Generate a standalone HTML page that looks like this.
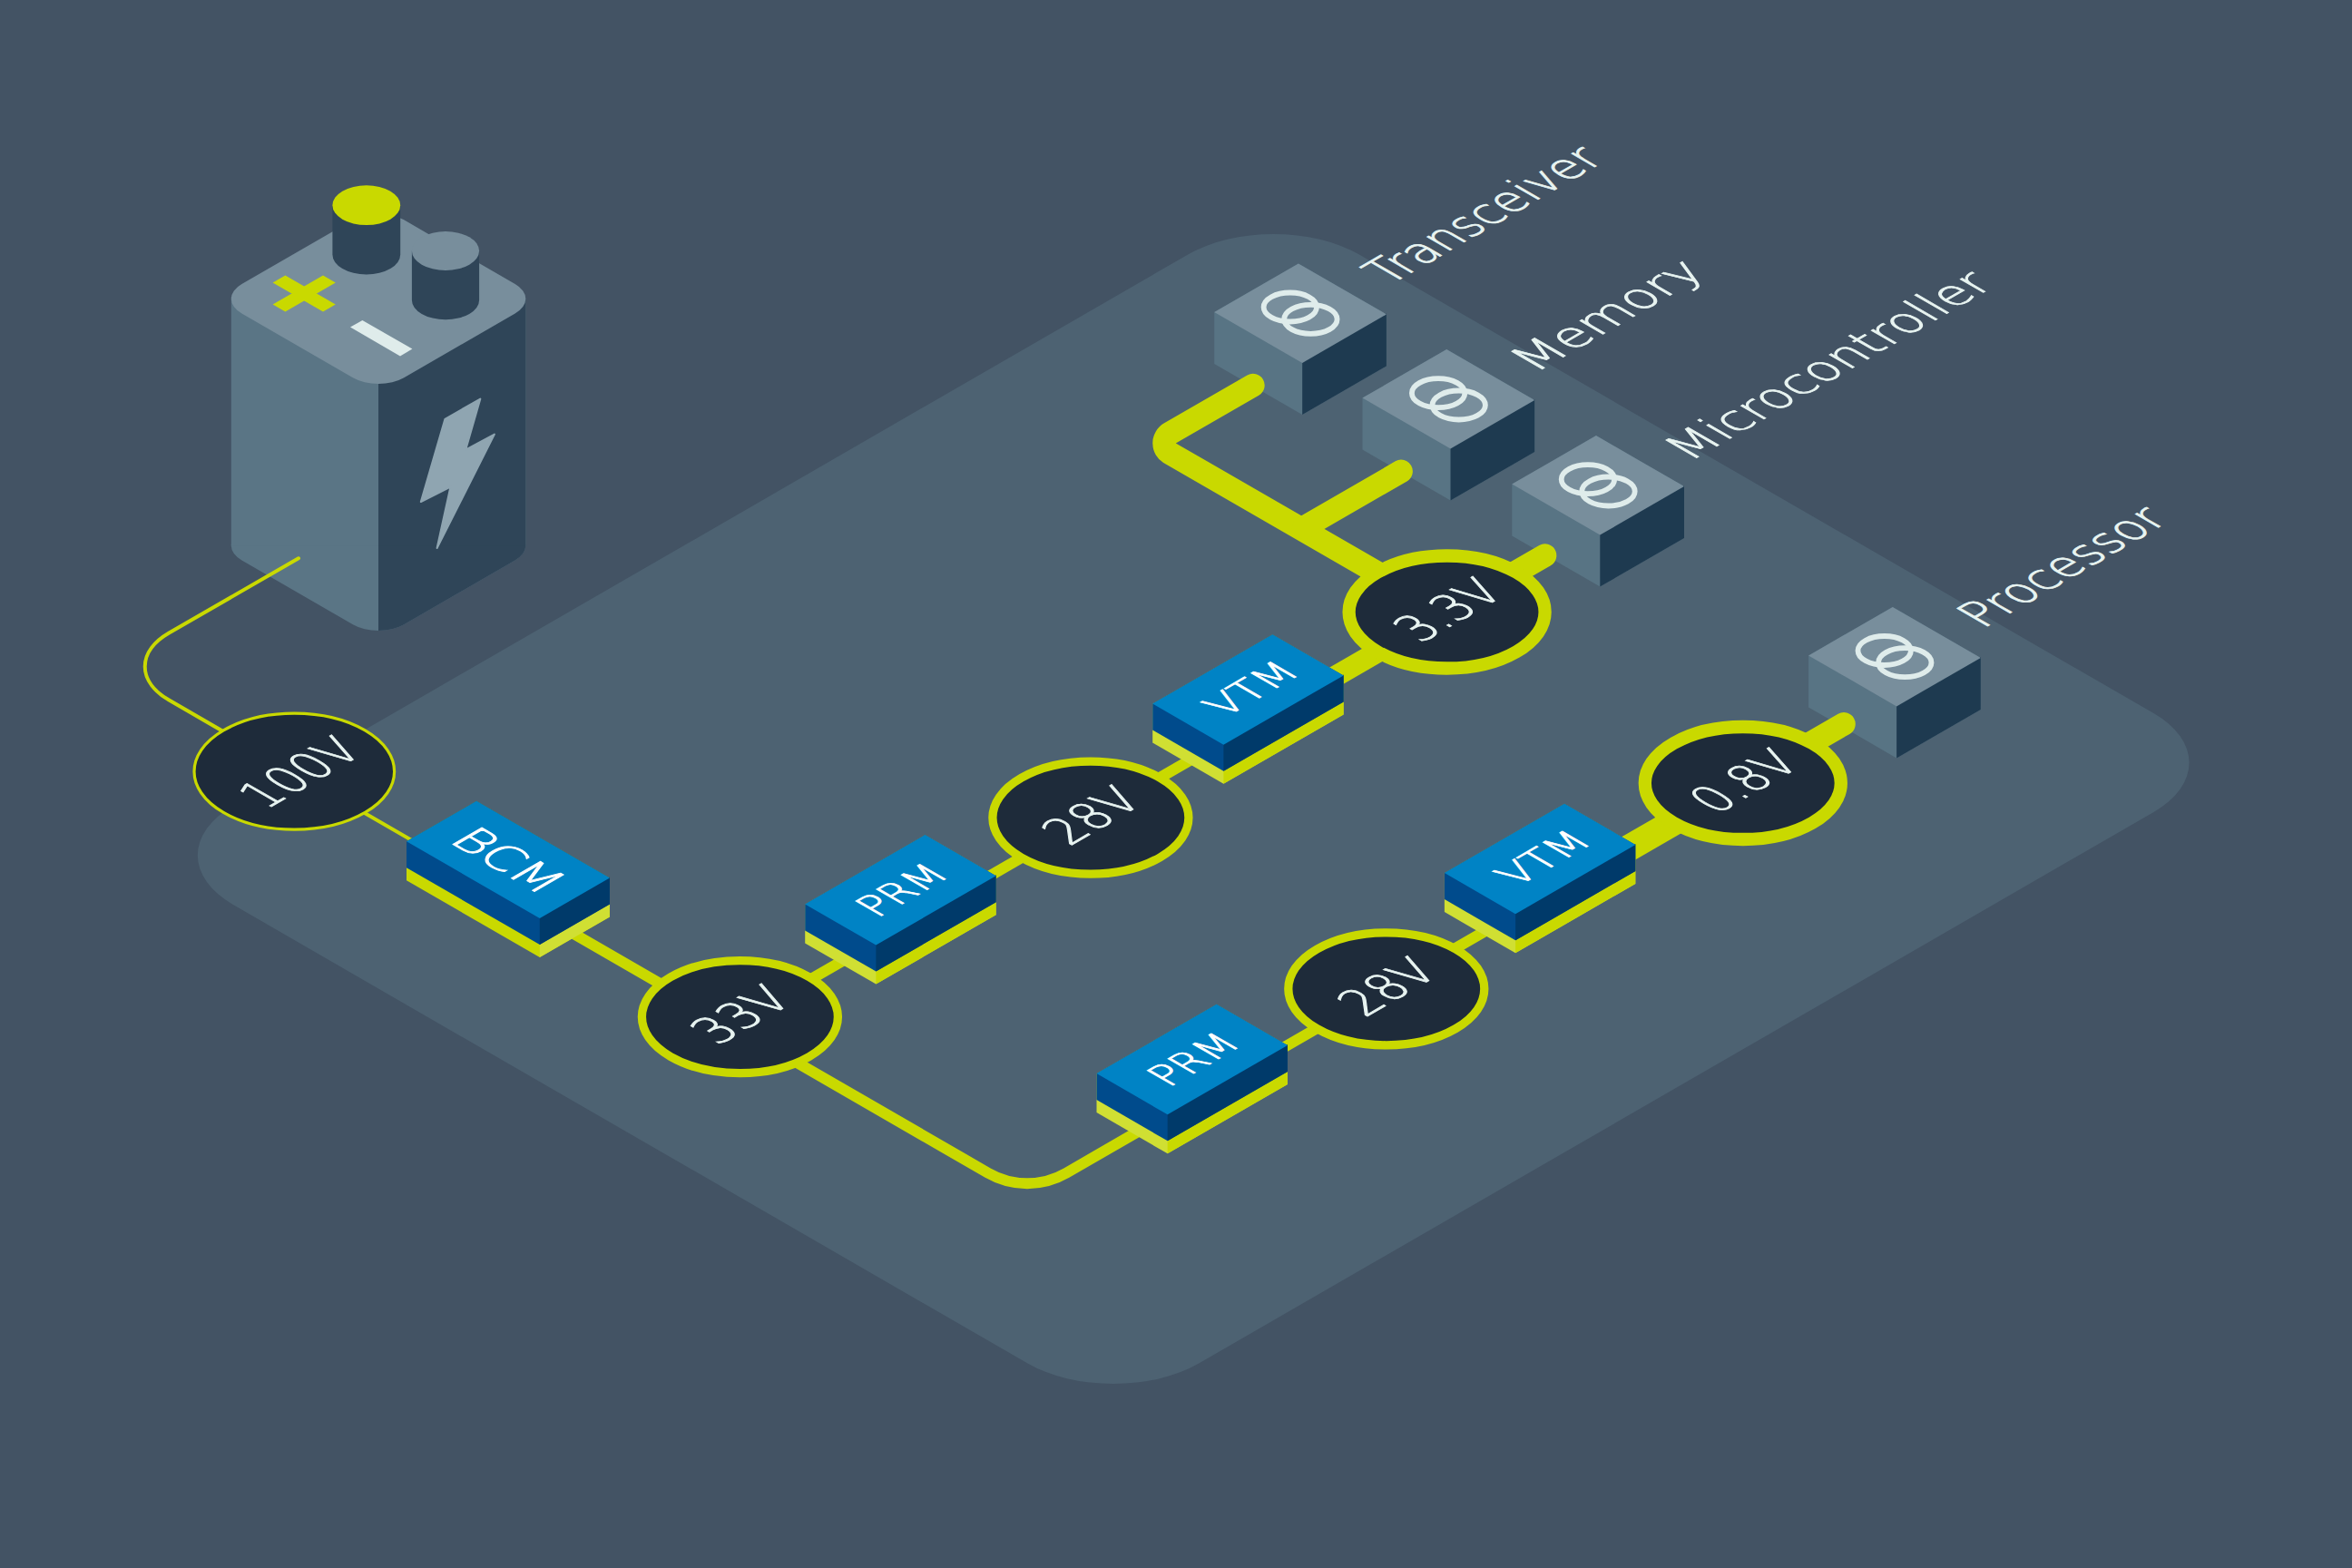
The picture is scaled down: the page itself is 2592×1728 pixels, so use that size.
<!DOCTYPE html>
<html lang="en"><head><meta charset="utf-8"><title>Power delivery network</title>
<style>
html,body{margin:0;padding:0;background:#435364;}
svg{display:block;}
text{font-family:"DejaVu Sans Light","DejaVu Sans","Liberation Sans",sans-serif;font-weight:200;}
</style></head><body>
<svg width="2592" height="1728" viewBox="0 0 2592 1728">
<rect width="2592" height="1728" fill="#435364"/>
<rect x="0" y="0" width="1433" height="1229" rx="109" ry="109" fill="#4d6272" transform="matrix(0.86603,-0.5,0.86603,0.5,162.5,942.5)"/>
<defs><clipPath id="brc"><rect x="417.0" y="0" width="400" height="1728"/></clipPath></defs>
<rect x="0" y="0" width="206.4" height="206.4" rx="32.5" ry="32.5" fill="#5a7585" transform="matrix(0.86603,-0.5,0.86603,0.5,238.3,601.3)"/>
<rect x="254.8" y="329.3" width="324.5" height="272" fill="#5a7585"/>
<g clip-path="url(#brc)">
<rect x="0" y="0" width="206.4" height="206.4" rx="32.5" ry="32.5" fill="#2f4558" transform="matrix(0.86603,-0.5,0.86603,0.5,238.3,601.3)"/>
<rect x="254.8" y="329.3" width="324.5" height="272" fill="#2f4558"/>
</g>
<rect x="0" y="0" width="206.4" height="206.4" rx="32.5" ry="32.5" fill="#788e9c" transform="matrix(0.86603,-0.5,0.86603,0.5,238.3,329.3)"/>
<polygon points="529.3,439.6 513.2,495.6 544.9,478.6 481.6,604.0 496.4,536.6 463.8,553.0 490.4,461.8" fill="#8fa5b1" stroke="#8fa5b1" stroke-width="2" stroke-linejoin="round"/>
<polygon points="300.6,335.6 356.0,303.6 369.8,311.6 314.4,343.6" fill="#c9d900"/>
<polygon points="300.6,311.6 314.4,303.6 369.8,335.6 356.0,343.6" fill="#c9d900"/>
<polygon points="386.0,360.6 399.4,352.9 454.4,384.6 441.0,392.4" fill="#dfeceb"/>
<path d="M366.4,226.2 V280.5 A37.4,21.9 0 0 0 441.2,280.5 V226.2 Z" fill="#2f4558"/><ellipse cx="403.8" cy="226.2" rx="37.4" ry="21.9" fill="#c9d900"/>
<path d="M453.9,276.5 V330.7 A37.1,21.5 0 0 0 528.1,330.7 V276.5 Z" fill="#2f4558"/><ellipse cx="491" cy="276.5" rx="37.1" ry="21.5" fill="#788e9c"/>
<polygon points="1338.2,343.9 1430.9,290.4 1527.9,346.4 1527.9,403.4 1435.2,456.9 1338.2,400.9" fill="#587484"/><polygon points="1435.2,398.9 1527.9,345.4 1527.9,403.4 1435.2,456.9" fill="#1e3a50"/><polygon points="1430.9,290.4 1527.9,346.4 1435.2,399.9 1338.2,343.9" fill="#788e9c"/><ellipse cx="1421.8" cy="338.5" rx="29.2" ry="16" fill="none" stroke="#dfeceb" stroke-width="5.8"/><ellipse cx="1444.4" cy="351.8" rx="29.2" ry="16" fill="none" stroke="#dfeceb" stroke-width="5.8"/>
<polygon points="1501.5,438.6 1594.2,385.1 1691.2,441.1 1691.2,498.1 1598.5,551.6 1501.5,495.6" fill="#587484"/><polygon points="1598.5,493.6 1691.2,440.1 1691.2,498.1 1598.5,551.6" fill="#1e3a50"/><polygon points="1594.2,385.1 1691.2,441.1 1598.5,494.6 1501.5,438.6" fill="#788e9c"/><ellipse cx="1585.1" cy="433.2" rx="29.2" ry="16" fill="none" stroke="#dfeceb" stroke-width="5.8"/><ellipse cx="1607.7" cy="446.5" rx="29.2" ry="16" fill="none" stroke="#dfeceb" stroke-width="5.8"/>
<polygon points="1666.3,533.6 1759.0,480.1 1856.0,536.1 1856.0,593.1 1763.3,646.6 1666.3,590.6" fill="#587484"/><polygon points="1763.3,588.6 1856.0,535.1 1856.0,593.1 1763.3,646.6" fill="#1e3a50"/><polygon points="1759.0,480.1 1856.0,536.1 1763.3,589.6 1666.3,533.6" fill="#788e9c"/><ellipse cx="1749.9" cy="528.2" rx="29.2" ry="16" fill="none" stroke="#dfeceb" stroke-width="5.8"/><ellipse cx="1772.5" cy="541.5" rx="29.2" ry="16" fill="none" stroke="#dfeceb" stroke-width="5.8"/>
<polygon points="1993.1,722.4 2085.8,668.9 2182.8,724.9 2182.8,781.9 2090.1,835.4 1993.1,779.4" fill="#587484"/><polygon points="2090.1,777.4 2182.8,723.9 2182.8,781.9 2090.1,835.4" fill="#1e3a50"/><polygon points="2085.8,668.9 2182.8,724.9 2090.1,778.4 1993.1,722.4" fill="#788e9c"/><ellipse cx="2076.7" cy="717.0" rx="29.2" ry="16" fill="none" stroke="#dfeceb" stroke-width="5.8"/><ellipse cx="2099.3" cy="730.2" rx="29.2" ry="16" fill="none" stroke="#dfeceb" stroke-width="5.8"/>
<path d="M329,615.3 L186.3,697.6 A90.6,52.3 0 0 0 186.3,771.6 L323.9,851 L560,987.3" fill="none" stroke="#c9d900" stroke-width="4" stroke-linecap="round" stroke-linejoin="round"/>
<path d="M560,987.3 L1088.7,1292.6 A86.6,86.6 0 0 0 1175.3,1292.6 L1697,991.3" fill="none" stroke="#c9d900" stroke-width="12" stroke-linecap="butt" stroke-linejoin="round"/>
<path d="M1697,991.3 L1920.8,862.1" fill="none" stroke="#c9d900" stroke-width="29.3" stroke-linecap="butt" stroke-linejoin="round"/>
<path d="M1920.8,862.1 L2032,797.9" fill="none" stroke="#c9d900" stroke-width="25.5" stroke-linecap="round" stroke-linejoin="round"/>
<path d="M815.4,1124.3 L1375.3,801.0" fill="none" stroke="#c9d900" stroke-width="12" stroke-linecap="butt" stroke-linejoin="round"/>
<path d="M1375.3,801.0 L1594.6,674.4" fill="none" stroke="#c9d900" stroke-width="23.5" stroke-linecap="butt" stroke-linejoin="round"/>
<path d="M1594.6,674.4 L1702.6,612.1" fill="none" stroke="#c9d900" stroke-width="25.5" stroke-linecap="round" stroke-linejoin="round"/>
<path d="M1594.6,675.6 L1289.4,499.45 A12.75,12.75 0 0 1 1289.4,477.35 L1380.9,424.6" fill="none" stroke="#c9d900" stroke-width="25.5" stroke-linecap="round" stroke-linejoin="round"/>
<path d="M1436.6,581.5 L1544.1,519.4" fill="none" stroke="#c9d900" stroke-width="25.5" stroke-linecap="round" stroke-linejoin="round"/>
<polygon points="448.0,927.3 525.1,882.8 671.9,967.5 671.9,1010.5 594.8,1055.0 448.0,970.3" fill="#c9d900"/><polygon points="594.8,1012.0 671.9,967.5 671.9,1010.5 594.8,1055.0" fill="#d0df33"/><polygon points="448.0,927.3 525.1,882.8 671.9,967.5 671.9,996.5 594.8,1041.0 448.0,956.3" fill="#004b8c"/><polygon points="594.8,1011.0 671.9,966.5 671.9,996.5 594.8,1041.0" fill="#003a6a"/><polygon points="525.1,882.8 671.9,967.5 594.8,1012.0 448.0,927.3" fill="#0083c5"/>
<text transform="matrix(0.8660,0.5000,-0.8660,0.5000,560.0,947.4)" x="1.0" y="18.5" font-size="50.8" text-anchor="middle" textLength="119.3" lengthAdjust="spacingAndGlyphs" fill="#ffffff" stroke="#ffffff" stroke-width="1.0">BCM</text>
<polygon points="887.2,996.5 1019.4,920.1 1097.6,965.2 1097.6,1008.2 965.4,1084.6 887.2,1039.5" fill="#d0df33"/><polygon points="965.4,1041.6 1097.6,965.2 1097.6,1008.2 965.4,1084.6" fill="#c9d900"/><polygon points="887.2,996.5 1019.4,920.1 1097.6,965.2 1097.6,994.2 965.4,1070.6 887.2,1025.5" fill="#004b8c"/><polygon points="965.4,1040.6 1097.6,964.2 1097.6,994.2 965.4,1070.6" fill="#003a6a"/><polygon points="1019.4,920.1 1097.6,965.2 965.4,1041.6 887.2,996.5" fill="#0083c5"/>
<text transform="matrix(0.8660,-0.5000,0.8660,0.5000,992.4,980.9)" x="0.8" y="16.4" font-size="44.9" text-anchor="middle" textLength="93.5" lengthAdjust="spacingAndGlyphs" fill="#ffffff" stroke="#ffffff" stroke-width="1.0">PRM</text>
<polygon points="1270.2,775.6 1402.4,699.2 1480.6,744.4 1480.6,787.4 1348.4,863.7 1270.2,818.6" fill="#d0df33"/><polygon points="1348.4,820.7 1480.6,744.4 1480.6,787.4 1348.4,863.7" fill="#c9d900"/><polygon points="1270.2,775.6 1402.4,699.2 1480.6,744.4 1480.6,773.4 1348.4,849.7 1270.2,804.6" fill="#004b8c"/><polygon points="1348.4,819.7 1480.6,743.4 1480.6,773.4 1348.4,849.7" fill="#003a6a"/><polygon points="1402.4,699.2 1480.6,744.4 1348.4,820.7 1270.2,775.6" fill="#0083c5"/>
<text transform="matrix(0.8660,-0.5000,0.8660,0.5000,1375.4,760.0)" x="3.1" y="16.4" font-size="44.9" text-anchor="middle" textLength="97.4" lengthAdjust="spacingAndGlyphs" fill="#ffffff" stroke="#ffffff" stroke-width="1.0">VTM</text>
<polygon points="1208.5,1183.1 1340.7,1106.8 1418.9,1152.0 1418.9,1195.0 1286.7,1271.3 1208.5,1226.1" fill="#d0df33"/><polygon points="1286.7,1228.3 1418.9,1152.0 1418.9,1195.0 1286.7,1271.3" fill="#c9d900"/><polygon points="1208.5,1183.1 1340.7,1106.8 1418.9,1152.0 1418.9,1181.0 1286.7,1257.3 1208.5,1212.1" fill="#004b8c"/><polygon points="1286.7,1227.3 1418.9,1151.0 1418.9,1181.0 1286.7,1257.3" fill="#003a6a"/><polygon points="1340.7,1106.8 1418.9,1152.0 1286.7,1228.3 1208.5,1183.1" fill="#0083c5"/>
<text transform="matrix(0.8660,-0.5000,0.8660,0.5000,1313.7,1167.5)" x="0.8" y="16.4" font-size="44.9" text-anchor="middle" textLength="93.5" lengthAdjust="spacingAndGlyphs" fill="#ffffff" stroke="#ffffff" stroke-width="1.0">PRM</text>
<polygon points="1591.9,962.1 1724.1,885.8 1802.3,930.9 1802.3,973.9 1670.1,1050.3 1591.9,1005.1" fill="#d0df33"/><polygon points="1670.1,1007.3 1802.3,930.9 1802.3,973.9 1670.1,1050.3" fill="#c9d900"/><polygon points="1591.9,962.1 1724.1,885.8 1802.3,930.9 1802.3,959.9 1670.1,1036.3 1591.9,991.1" fill="#004b8c"/><polygon points="1670.1,1006.3 1802.3,929.9 1802.3,959.9 1670.1,1036.3" fill="#003a6a"/><polygon points="1724.1,885.8 1802.3,930.9 1670.1,1007.3 1591.9,962.1" fill="#0083c5"/>
<text transform="matrix(0.8660,-0.5000,0.8660,0.5000,1697.1,946.5)" x="3.1" y="16.4" font-size="44.9" text-anchor="middle" textLength="97.4" lengthAdjust="spacingAndGlyphs" fill="#ffffff" stroke="#ffffff" stroke-width="1.0">VTM</text>
<ellipse cx="324.3" cy="850.2" rx="110.3" ry="64" fill="#1e2b3a" stroke="#c9d900" stroke-width="3.2"/><text transform="matrix(0.8660,-0.5000,0.8660,0.5000,324.3,850.2)" x="2.5" y="24.4" font-size="56.5" text-anchor="middle" textLength="126.9" lengthAdjust="spacingAndGlyphs" fill="#e8f4f1" stroke="#e8f4f1" stroke-width="1.0">100V</text>
<ellipse cx="815.4" cy="1120.6" rx="108" ry="62" fill="#1e2b3a" stroke="#c9d900" stroke-width="9.3"/><text transform="matrix(0.8660,-0.5000,0.8660,0.5000,815.4,1120.6)" x="3.0" y="18.1" font-size="56.5" text-anchor="middle" textLength="98.3" lengthAdjust="spacingAndGlyphs" fill="#e8f4f1" stroke="#e8f4f1" stroke-width="1.0">33V</text>
<ellipse cx="1201.9" cy="901.1" rx="108" ry="62" fill="#1e2b3a" stroke="#c9d900" stroke-width="9.3"/><text transform="matrix(0.8660,-0.5000,0.8660,0.5000,1201.9,901.1)" x="3.0" y="18.1" font-size="56.5" text-anchor="middle" textLength="97.1" lengthAdjust="spacingAndGlyphs" fill="#e8f4f1" stroke="#e8f4f1" stroke-width="1.0">28V</text>
<ellipse cx="1594.6" cy="674.5" rx="108" ry="62" fill="#1e2b3a" stroke="#c9d900" stroke-width="14.3"/><text transform="matrix(0.8660,-0.5000,0.8660,0.5000,1594.6,674.5)" x="3.0" y="18.1" font-size="56.5" text-anchor="middle" textLength="108.9" lengthAdjust="spacingAndGlyphs" fill="#e8f4f1" stroke="#e8f4f1" stroke-width="1.0">3.3V</text>
<ellipse cx="1527.8" cy="1089.8" rx="108" ry="62" fill="#1e2b3a" stroke="#c9d900" stroke-width="9.3"/><text transform="matrix(0.8660,-0.5000,0.8660,0.5000,1527.8,1089.8)" x="3.0" y="18.1" font-size="56.5" text-anchor="middle" textLength="97.1" lengthAdjust="spacingAndGlyphs" fill="#e8f4f1" stroke="#e8f4f1" stroke-width="1.0">28V</text>
<ellipse cx="1920.8" cy="863" rx="108" ry="62" fill="#1e2b3a" stroke="#c9d900" stroke-width="14.3"/><text transform="matrix(0.8660,-0.5000,0.8660,0.5000,1920.8,863.0)" x="3.0" y="18.1" font-size="56.5" text-anchor="middle" textLength="109.5" lengthAdjust="spacingAndGlyphs" fill="#e8f4f1" stroke="#e8f4f1" stroke-width="1.0">0.8V</text>
<text transform="matrix(0.8660,-0.5000,0.8660,0.5000,1531.1,314.5)" x="0.0" y="0.0" font-size="53.5" text-anchor="start" textLength="275.4" lengthAdjust="spacingAndGlyphs" fill="#e8f4f1" stroke="#e8f4f1" stroke-width="1.0">Transceiver</text>
<text transform="matrix(0.8660,-0.5000,0.8660,0.5000,1692.2,411.0)" x="0.0" y="0.0" font-size="53.5" text-anchor="start" textLength="219" lengthAdjust="spacingAndGlyphs" fill="#e8f4f1" stroke="#e8f4f1" stroke-width="1.0">Memory</text>
<text transform="matrix(0.8660,-0.5000,0.8660,0.5000,1862.4,508.8)" x="0.0" y="0.0" font-size="53.5" text-anchor="start" textLength="388.7" lengthAdjust="spacingAndGlyphs" fill="#e8f4f1" stroke="#e8f4f1" stroke-width="1.0">Microcontroller</text>
<text transform="matrix(0.8660,-0.5000,0.8660,0.5000,2185.2,692.9)" x="0.0" y="0.0" font-size="53.5" text-anchor="start" textLength="238" lengthAdjust="spacingAndGlyphs" fill="#e8f4f1" stroke="#e8f4f1" stroke-width="1.0">Processor</text>
</svg>
</body></html>
